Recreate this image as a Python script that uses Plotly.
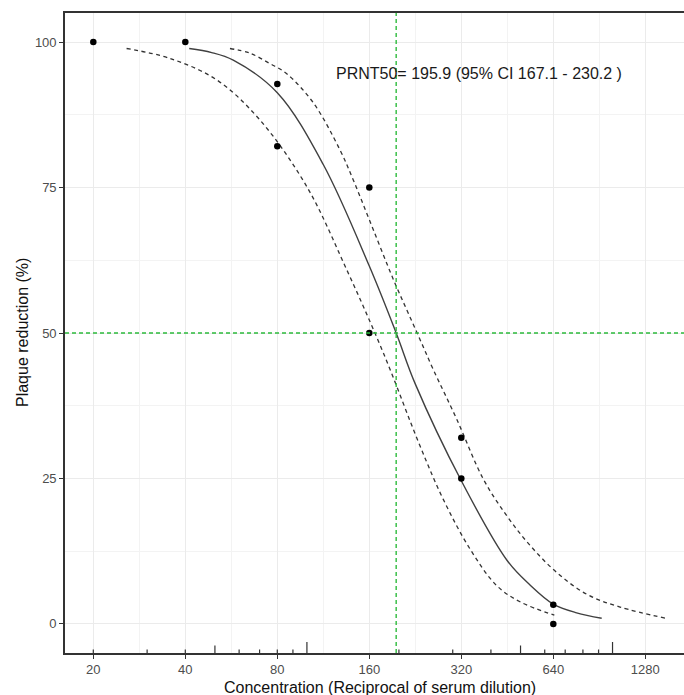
import math
import plotly.graph_objects as go

# ---------------- data ----------------
PRNT50 = 195.9
CI_LOW = 167.1
CI_HIGH = 230.2

dilution = [20, 40, 80, 80, 160, 160, 320, 320, 640, 640]
reduction = [100, 100, 92.8, 82.1, 75, 50, 32, 25, 3.3, 0]

fit_x = [41.2, 48.8, 57.4, 80, 113, 160, 195.9, 226, 320, 452, 537, 640, 763, 921.6]
fit_y = [98.9, 98.2, 96.9, 91.3, 79.0, 61.5, 50.0, 41.3, 24.6, 10.9, 6.7, 3.4, 1.9, 0.97]

lower_x = [25.7, 35.6, 50.7, 70.2, 99.8, 134.9, 177.8, 234.4, 279.4, 341.5,
           417.6, 498, 645]
lower_y = [98.9, 97.2, 93.5, 86.6, 75.2, 60.9, 46.6, 30.6, 21.4, 12.9,
           6.6, 3.8, 1.5]

upper_x = [56, 65.1, 75.7, 85.7, 104.8, 128.2, 141.8, 156.9, 191.8, 212.1,
           234.4, 259.2, 309.1, 377.7, 450.5, 537, 655, 823, 1058, 1490]
upper_y = [98.9, 98.1, 96.3, 94.6, 89.6, 81.5, 76.3, 70.6, 59.2, 54.0,
           48.9, 43.7, 35.2, 24.9, 18.6, 13.5, 8.9, 5.1, 2.9, 0.98]

x_ticks = [20, 40, 80, 160, 320, 640, 1280]
x_ticktext = ["20", "40", "80", "160", "320", "640", "1280"]
y_ticks = [0, 25, 50, 75, 100]

logtick_short = [20, 30, 40, 60, 70, 80, 90, 200, 300, 400, 600, 700, 800, 900]
logtick_mid = [50, 500]
logtick_long = [100, 1000]

# ---------------- geometry / style ----------------
W, H = 684, 695
L, T = 65, 13
PLOT_BOTTOM = 653
R_EDGE = 684
PX20 = 93.3
PX_PER_DOUBLING = 92.0
Y_RANGE = [-5, 105]

lg2 = math.log10(2)
x_range = [math.log10(20) + (L - PX20) / PX_PER_DOUBLING * lg2,
           math.log10(20) + (R_EDGE - PX20) / PX_PER_DOUBLING * lg2]
plot_h = PLOT_BOTTOM - T
px_per_unit = plot_h / (Y_RANGE[1] - Y_RANGE[0])

FONT = "Liberation Sans, Arial, sans-serif"
CURVE_COL = "#333333"
GREEN = "#2dbb3c"

fig = go.Figure()

# fitted curve and CI
for xs, ys in [(lower_x, lower_y), (upper_x, upper_y)]:
    fig.add_trace(go.Scatter(x=xs, y=ys, mode="lines",
                             line=dict(color=CURVE_COL, width=1.3, dash="4px,3.5px",
                                       shape="spline", smoothing=1.0),
                             hoverinfo="skip"))
fig.add_trace(go.Scatter(x=fit_x, y=fit_y, mode="lines",
                         line=dict(color="#404040", width=1.4, shape="spline",
                                   smoothing=1.0),
                         hoverinfo="skip"))

# observed points
fig.add_trace(go.Scatter(x=dilution, y=reduction, mode="markers",
                         marker=dict(color="black", size=6.5)))

# log ticks (inside the panel, from the bottom)
def tick_segments(vals, length_px):
    xs, ys = [], []
    for v in vals:
        xs += [v, v, None]
        ys += [Y_RANGE[0], Y_RANGE[0] + length_px / px_per_unit, None]
    return xs, ys

for vals, ln in [(logtick_short, 3.5), (logtick_mid, 7.5), (logtick_long, 11)]:
    xs, ys = tick_segments(vals, ln)
    fig.add_trace(go.Scatter(x=xs, y=ys, mode="lines",
                             line=dict(color="#333333", width=1.2),
                             hoverinfo="skip", cliponaxis=False))

# PRNT50 reference lines
fig.add_shape(type="line", xref="x", yref="paper", x0=PRNT50, x1=PRNT50, y0=0, y1=1,
              line=dict(color=GREEN, width=1.4, dash="4px,3px"))
fig.add_shape(type="line", xref="paper", yref="y", x0=0, x1=1, y0=50, y1=50,
              line=dict(color=GREEN, width=1.4, dash="4px,3px"))

# annotation text
fig.add_annotation(xref="paper", yref="paper",
                   x=(334 - L) / (R_EDGE - L), y=(PLOT_BOTTOM - 73) / plot_h,
                   xanchor="left", yanchor="middle", showarrow=False,
                   text=f"PRNT50= {PRNT50} (95% CI {CI_LOW} - {CI_HIGH} )",
                   font=dict(family=FONT, size=16, color="#1a1a1a"))

# axis titles
fig.add_annotation(xref="paper", yref="paper",
                   x=(379.5 - L) / (R_EDGE - L), y=(PLOT_BOTTOM - 687) / plot_h,
                   xanchor="center", yanchor="middle", showarrow=False,
                   text="Concentration (Reciprocal of serum dilution)",
                   font=dict(family=FONT, size=16, color="#111111"))
fig.add_annotation(xref="paper", yref="paper",
                   x=(22 - L) / (R_EDGE - L), y=(PLOT_BOTTOM - 333) / plot_h,
                   xanchor="center", yanchor="middle", showarrow=False, textangle=-90,
                   text="Plaque reduction (%)",
                   font=dict(family=FONT, size=16, color="#111111"))

minor_x = [math.sqrt(x_ticks[i] * x_ticks[i + 1]) for i in range(len(x_ticks) - 1)]
minor_x.append(x_ticks[-1] * math.sqrt(2))
minor_y = [(y_ticks[i] + y_ticks[i + 1]) / 2 for i in range(len(y_ticks) - 1)]

fig.update_layout(
    width=W, height=H,
    margin=dict(l=L, r=W - R_EDGE, t=T, b=H - PLOT_BOTTOM, pad=0),
    paper_bgcolor="white", plot_bgcolor="white",
    showlegend=False,
    font=dict(family=FONT),
    xaxis=dict(type="log", range=x_range, tickvals=x_ticks, ticktext=x_ticktext,
               ticks="outside", ticklen=4, tickwidth=1.2, tickcolor="#333333",
               tickfont=dict(family=FONT, size=13, color="#4d4d4d"),
               showgrid=True, gridcolor="#ebebeb", gridwidth=1.2,
               minor=dict(tickvals=minor_x, showgrid=True, gridcolor="#f3f3f3",
                          gridwidth=0.7, ticks=""),
               showline=True, linecolor="#333333", linewidth=1.6, mirror=True,
               zeroline=False, fixedrange=True),
    yaxis=dict(range=Y_RANGE, tickvals=y_ticks,
               ticks="outside", ticklen=4, tickwidth=1.2, tickcolor="#333333",
               tickfont=dict(family=FONT, size=13, color="#4d4d4d"),
               showgrid=True, gridcolor="#ebebeb", gridwidth=1.2,
               minor=dict(tickvals=minor_y, showgrid=True, gridcolor="#f3f3f3",
                          gridwidth=0.7, ticks=""),
               showline=True, linecolor="#333333", linewidth=1.6, mirror=False,
               zeroline=False, fixedrange=True),
)

fig.write_html("out.html")
